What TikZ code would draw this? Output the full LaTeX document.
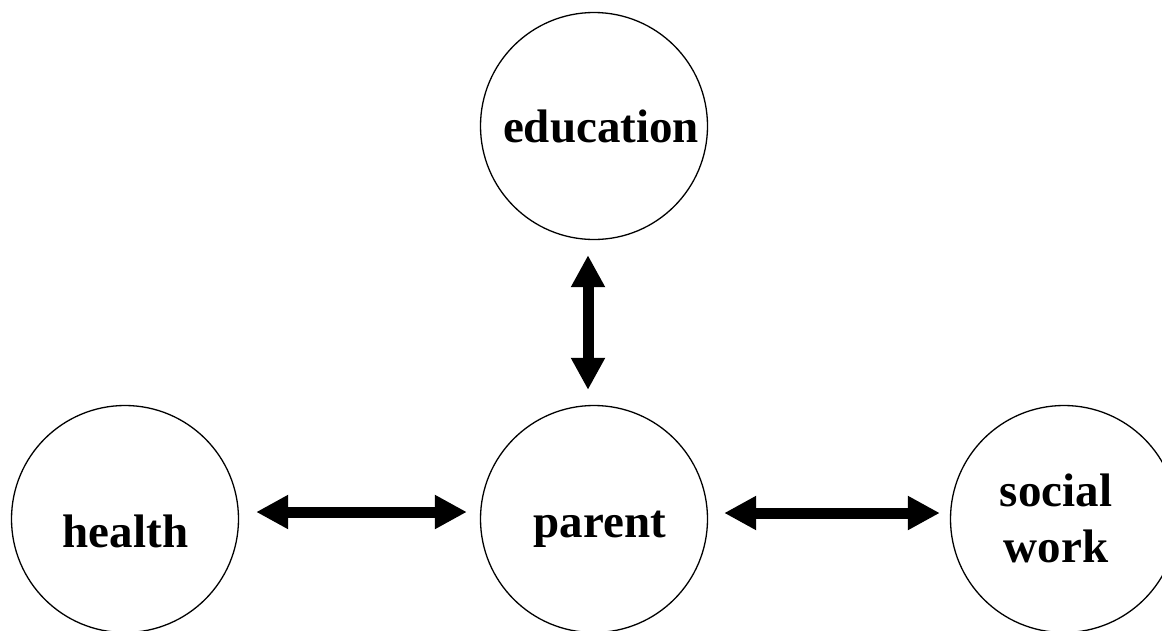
\documentclass[tikz,border=0pt]{standalone}
\usepackage{fontspec}
\setmainfont{Liberation Serif}
\usetikzlibrary{arrows.meta}
\begin{document}
\begin{tikzpicture}[x=1pt,y=-1pt,
  ring/.style={circle,draw=black,line width=1.3pt,minimum size=227pt,inner sep=0pt},
  lbl/.style={font=\fontsize{47}{56}\selectfont\bfseries,inner sep=0pt,align=center},
  link/.style={line width=11pt,{Triangle[width=32pt,length=32pt]}-{Triangle[width=32pt,length=32pt]}}]
\useasboundingbox (0,0) rectangle (1162,630);
\clip (0,0) rectangle (1162,630);
\node[ring] (edu) at (594,126) {};
\node[ring] (par) at (594,519) {};
\node[ring] (hea) at (125,519) {};
\node[ring] (soc) at (1064,519) {};
\node[lbl,anchor=base] (tedu) at (601,142) {education};
\node[lbl,anchor=base] (tpar) at (600,537) {parent};
\node[lbl,anchor=base] (thea) at (125.5,547) {health};
\node[lbl,anchor=base] (tsoc) at (1056,562) {social\\work};
\draw[link,shorten <=15pt,shorten >=15pt] ([xshift=-6pt]edu.south) -- ([xshift=-6pt]par.north);
\draw[link,shorten <=17pt,shorten >=13pt] ([yshift=7pt]hea.east) -- ([yshift=7pt]par.west);
\draw[link,shorten <=16pt,shorten >=10pt] ([yshift=6pt]par.east) -- ([yshift=6pt]soc.west);
\end{tikzpicture}
\end{document}
